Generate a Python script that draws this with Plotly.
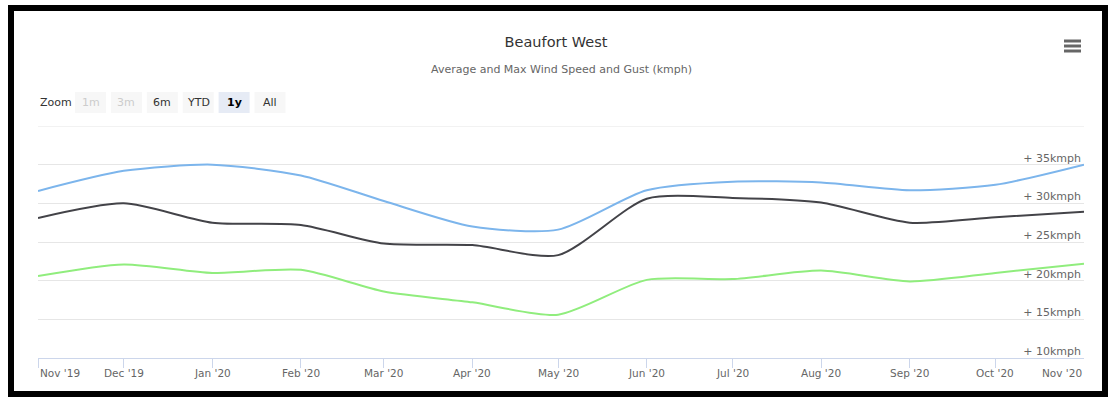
import plotly.graph_objects as go

# Monthly wind figures for Beaufort West (kmph)
months = ["2019-11-01", "2019-12-01", "2020-01-01", "2020-02-01", "2020-03-01",
          "2020-04-01", "2020-05-01", "2020-06-01", "2020-07-01", "2020-08-01",
          "2020-09-01", "2020-10-01", "2020-11-01"]
month_labels = ["Nov '19", "Dec '19", "Jan '20", "Feb '20", "Mar '20", "Apr '20",
                "May '20", "Jun '20", "Jul '20", "Aug '20", "Sep '20", "Oct '20",
                "Nov '20"]
max_gust = [31.6, 34.2, 35.0, 33.6, 30.3, 27.0, 26.6, 31.7, 32.8, 32.7, 31.7, 32.4, 35.0]
max_wind = [28.1, 30.0, 27.5, 27.2, 24.8, 24.6, 23.3, 30.6, 30.7, 30.1, 27.5, 28.2, 28.9]
avg_wind = [20.6, 22.1, 21.0, 21.4, 18.6, 17.2, 15.6, 20.1, 20.2, 21.3, 19.9, 21.0, 22.2]
y_ticks = [10, 15, 20, 25, 30, 35, 40]
y_tick_text = ["+ %dkmph" % v if v < 40 else "" for v in y_ticks]
zoom_buttons = ["1m", "3m", "6m", "YTD", "1y", "All"]
zoom_state = ["off", "off", "on", "on", "sel", "on"]

# Canvas geometry (pixels)
FIG_W, FIG_H = 1112, 398
L, R, T, B = 38, 28, 126, 40
PW, PH = FIG_W - L - R, FIG_H - T - B


def px(xp):
    return (xp - L) / PW


def py(yp):
    return (FIG_H - B - yp) / PH


fig = go.Figure()
series = [
    ("Max gust", max_gust, "#7cb5ec"),
    ("Max wind", max_wind, "#434348"),
    ("Average wind", avg_wind, "#90ed7d"),
]
for name, vals, col in series:
    fig.add_trace(go.Scatter(
        x=months, y=vals, name=name, mode="lines",
        line=dict(color=col, width=2, shape="spline", smoothing=0.7),
        hoverinfo="x+y",
    ))

shapes = []
annotations = []

# Subtitle
annotations.append(dict(text="Average and Max Wind Speed and Gust (kmph)",
                        x=px(561), y=py(69), xref="paper", yref="paper",
                        xanchor="center", yanchor="middle", showarrow=False,
                        font=dict(family="DejaVu Sans", size=11, color="#666666")))

# Range-selector style buttons
annotations.append(dict(text="Zoom", x=px(38), y=py(102), xref="paper", yref="paper",
                        xanchor="left", yanchor="middle", showarrow=False,
                        font=dict(family="DejaVu Sans", size=11, color="#333333")))
for i, (lab, st) in enumerate(zip(zoom_buttons, zoom_state)):
    x0 = 75 + i * 35.9
    x1 = x0 + 31
    fill = "#e6ebf5" if st == "sel" else "#f7f7f7"
    shapes.append(dict(type="rect", xref="paper", yref="paper",
                       x0=px(x0), x1=px(x1), y0=py(113), y1=py(92),
                       fillcolor=fill, line=dict(width=0), layer="above"))
    if st == "off":
        col, txt = "#cccccc", lab
    elif st == "sel":
        col, txt = "#000000", "<b>%s</b>" % lab
    else:
        col, txt = "#333333", lab
    annotations.append(dict(text=txt, x=px((x0 + x1) / 2), y=py(102.5), xref="paper",
                            yref="paper", xanchor="center", yanchor="middle",
                            showarrow=False,
                            font=dict(family="DejaVu Sans", size=11, color=col)))

# Export menu icon
for yy in (41, 46, 51):
    shapes.append(dict(type="line", xref="paper", yref="paper",
                       x0=px(1064), x1=px(1081), y0=py(yy), y1=py(yy),
                       line=dict(color="#666666", width=3)))

# Top grid line
shapes.append(dict(type="line", xref="paper", yref="y", x0=0, x1=1, y0=40, y1=40,
                   line=dict(color="#e6e6e6", width=1), layer="below"))

# Month labels under the x axis
for i, (m, lab) in enumerate(zip(months, month_labels)):
    anchor = "left" if i == 0 else ("right" if i == len(months) - 1 else "center")
    annotations.append(dict(text=lab, x=m, y=py(373), xref="x", yref="paper",
                            xanchor=anchor, yanchor="middle", showarrow=False,
                            font=dict(family="DejaVu Sans", size=10.5, color="#666666")))

# Outer frame
shapes.append(dict(type="rect", xref="paper", yref="paper",
                   x0=px(11), x1=px(1105), y0=py(394), y1=py(8),
                   line=dict(color="#000000", width=6), fillcolor="rgba(0,0,0,0)",
                   layer="above"))

fig.update_layout(
    width=FIG_W, height=FIG_H,
    margin=dict(l=L, r=R, t=T, b=B, pad=0),
    paper_bgcolor="#ffffff", plot_bgcolor="#ffffff",
    showlegend=False,
    title=dict(
        text="Beaufort West",
        x=px(561), xanchor="center", y=1 - 42 / FIG_H, yanchor="middle",
        font=dict(family="DejaVu Sans", size=14.5, color="#333333"),
    ),
    xaxis=dict(
        type="date", range=[months[0], months[-1]],
        tickvals=months, showticklabels=False,
        ticks="outside", ticklen=9, tickcolor="#ccd6eb", tickwidth=1,
        showline=True, linecolor="#ccd6eb", linewidth=1,
        showgrid=False, zeroline=False, fixedrange=True,
    ),
    yaxis=dict(
        range=[10, 40], tickvals=y_ticks, ticktext=y_tick_text,
        side="right", ticklabelposition="inside", ticklabelshift=-7,
        ticks="", showgrid=True, gridcolor="#e6e6e6", gridwidth=1,
        zeroline=False, showline=False,
        tickfont=dict(family="DejaVu Sans", size=11, color="#666666"),
        fixedrange=True,
    ),
    shapes=shapes,
    annotations=annotations,
)

fig.write_html("out.html", config={"displayModeBar": False})
